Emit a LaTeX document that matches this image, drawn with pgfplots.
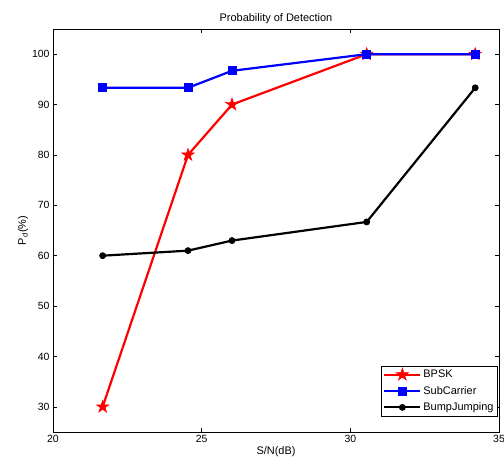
\documentclass[border=0pt]{standalone}
\usepackage{fontspec}
\setmainfont{Liberation Sans}
\usepackage{pgfplots}
\pgfplotsset{compat=1.18}
\pgfdeclareplotmark{pentagram}{%
  \pgfpathmoveto{\pgfpointpolar{90}{\pgfplotmarksize}}%
  \pgfpathlineto{\pgfpointpolar{126}{0.38\pgfplotmarksize}}%
  \pgfpathlineto{\pgfpointpolar{162}{\pgfplotmarksize}}%
  \pgfpathlineto{\pgfpointpolar{198}{0.38\pgfplotmarksize}}%
  \pgfpathlineto{\pgfpointpolar{234}{\pgfplotmarksize}}%
  \pgfpathlineto{\pgfpointpolar{270}{0.38\pgfplotmarksize}}%
  \pgfpathlineto{\pgfpointpolar{306}{\pgfplotmarksize}}%
  \pgfpathlineto{\pgfpointpolar{342}{0.38\pgfplotmarksize}}%
  \pgfpathlineto{\pgfpointpolar{18}{\pgfplotmarksize}}%
  \pgfpathlineto{\pgfpointpolar{54}{0.38\pgfplotmarksize}}%
  \pgfpathclose
  \pgfusepathqfillstroke}
\begin{document}
\begin{tikzpicture}[x=1bp,y=1bp]
\path[use as bounding box] (-53,-31) rectangle (451,432);
\begin{axis}[
  at={(0,0)}, anchor=south west,
  scale only axis, width=446bp, height=403bp,
  xmin=20, xmax=35, ymin=25, ymax=105,
  xtick={20,25,30,35}, ytick={30,40,...,100},
  tick align=inside, tick pos=both,
  major tick length=4bp,
  /pgf/number format/assume math mode=true,
  ticklabel style={font=\fontsize{10.5}{12}\selectfont},
  title={Probability of Detection},
  title style={font=\fontsize{11}{13}\selectfont, yshift=-4bp},
  xlabel={S/N(dB)}, ylabel={P$_\mathrm{d}$(\%)},
  xlabel style={font=\fontsize{11}{13}\selectfont, yshift=3bp},
  ylabel style={font=\fontsize{11}{13}\selectfont, yshift=-3bp},
  axis line style={line width=0.8pt},
  every tick/.style={black, line width=0.6pt},
  legend style={at={(0.997,0.039)}, anchor=south east, font=\fontsize{11}{13}\selectfont,
    draw=black, inner xsep=2pt, inner ysep=2pt, row sep=3bp,
    legend cell align=left},
  legend image post style={line width=2.2pt},
  legend image code/.code={\draw[mark repeat=2,mark phase=2] plot coordinates {(0bp,0bp)(18bp,0bp)(36bp,0bp)};},
]
\addplot[red, line width=2.2pt, mark=pentagram, mark size=6.5bp, mark options={fill=red, line width=0.6pt}] coordinates {
(21.67,30) (24.54,80) (26.02,90) (30.55,100) (34.2,100)};
\addlegendentry{BPSK}
\addplot[blue, line width=2.2pt, mark=square*, mark size=4bp, mark options={line width=0.8pt}] coordinates {
(21.67,93.33) (24.54,93.33) (26.02,96.7) (30.55,100) (34.2,100)};
\addlegendentry{SubCarrier}
\addplot[black, line width=2.2pt, mark=*, mark size=3bp, mark options={fill=black, line width=0.8pt}] coordinates {
(21.67,60) (24.54,61) (26.02,63) (30.55,66.7) (34.2,93.33)};
\addlegendentry{BumpJumping}
\end{axis}
\end{tikzpicture}
\end{document}
